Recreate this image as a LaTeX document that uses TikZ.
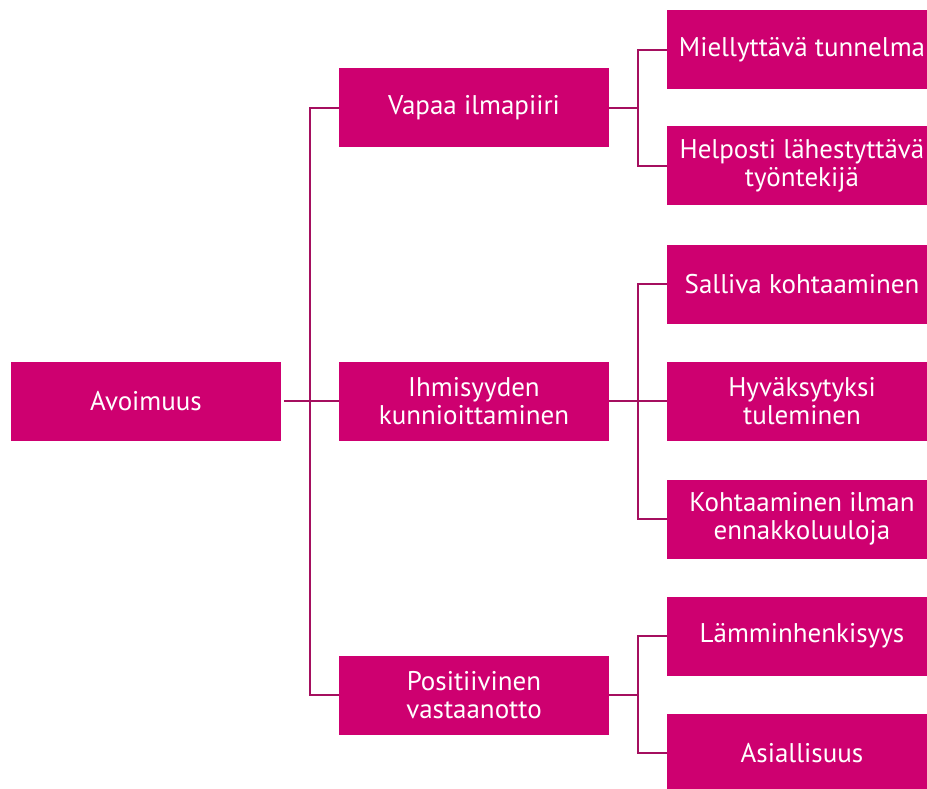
\documentclass[tikz,border=0pt]{standalone}
\usepackage{fontspec}
\setmainfont{PT Sans}
\usepackage{tikz}
\usetikzlibrary{calc}
\definecolor{boxpink}{RGB}{206,0,112}
\definecolor{linepink}{RGB}{165,15,95}

\begin{document}
\begin{tikzpicture}[x=1pt,y=-1pt]
\tikzstyle{box}=[fill=boxpink,text=white,minimum width=270pt,minimum height=79pt,inner sep=0pt,align=center,font=\fontsize{27}{28}\selectfont]
\tikzstyle{conn}=[draw=linepink,line width=2.2pt]
\useasboundingbox (0,0) rectangle (927,789);
\foreach \name/\point/\txt in {
	avo/{146,401}/Avoimuus,
	vap/{474,108}/Vapaa ilmapiiri,
	ihm/{474,401}/{Ihmisyyden\\kunnioittaminen},
	pos/{474,695}/{Positiivinen\\vastaanotto},
	mie/{802,50}/Miellyttävä tunnelma,
	hel/{802,166}/{Helposti lähestyttävä\\työntekijä},
	sal/{802,284}/Salliva kohtaaminen,
	hyv/{802,401}/{Hyväksytyksi\\tuleminen},
	koh/{802,519}/{Kohtaaminen ilman\\ennakkoluuloja},
	lam/{802,636}/Lämminhenkisyys,
	asi/{802,753}/Asiallisuus}
	\node[box] (\name) at (\point) {\txt};
% root to second level
\draw[conn,shorten <=3pt] (avo.east) -- (ihm.west);
\draw[conn] (vap.west) -| ($(avo.east)!0.5!(ihm.west)$) |- (pos.west);
% second level to third level
\draw[conn] (vap.east) -- ++(29,0) coordinate (v);
\draw[conn] (mie.west) -| (v) |- (hel.west);
\draw[conn] (ihm.east) -- (hyv.west);
\draw[conn] (sal.west) -| ($(ihm.east)!0.5!(hyv.west)$) |- (koh.west);
\draw[conn] (pos.east) -- ++(29,0) coordinate (p);
\draw[conn] (lam.west) -| (p) |- (asi.west);
\end{tikzpicture}
\end{document}
